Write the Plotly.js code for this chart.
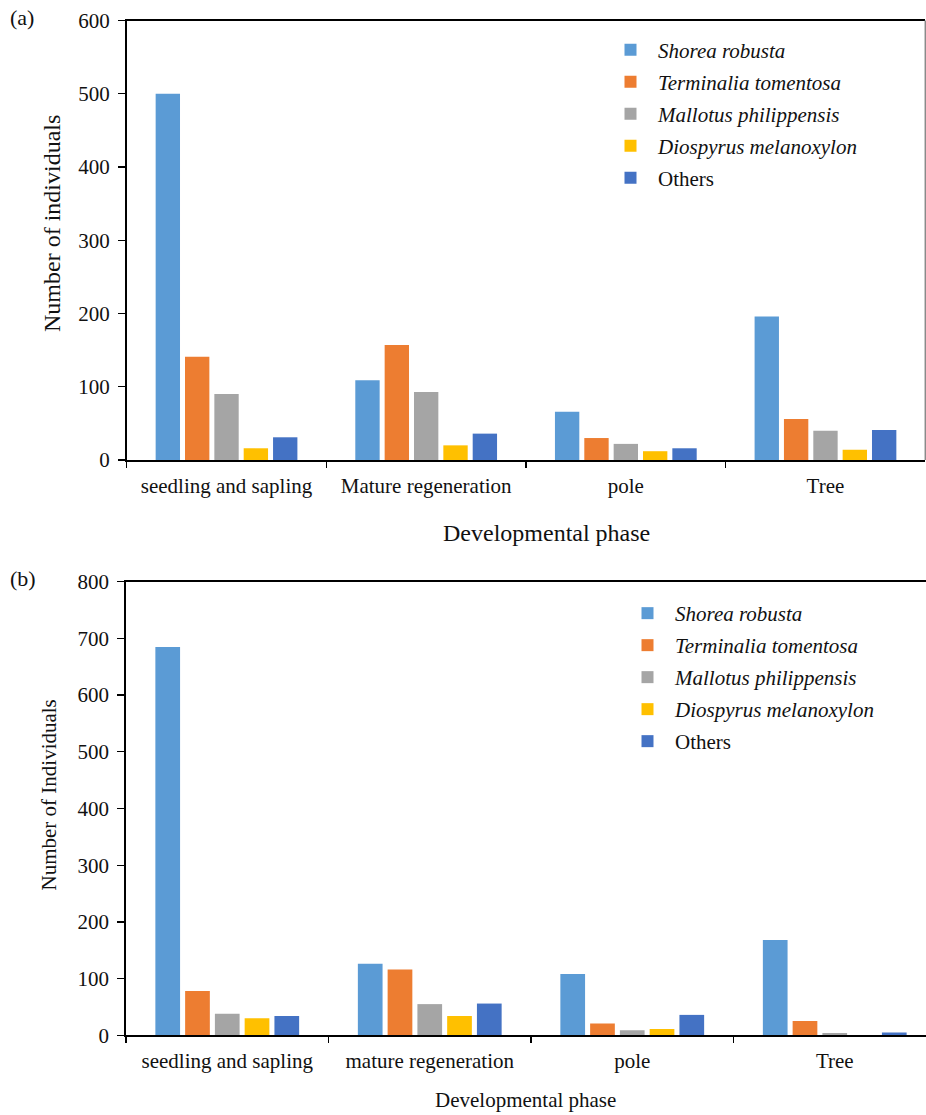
<!DOCTYPE html>
<html>
<head>
<meta charset="utf-8">
<script src="https://cdn.plot.ly/plotly-3.0.1.min.js"></script>
<style>
  html, body { margin: 0; padding: 0; background: #fff; }
  #chart { width: 926px; height: 1115px; }
</style>
</head>
<body>
<div id="chart"></div>
<script>
// Developmental phases (category axis labels)
const phasesA = ['seedling and sapling', 'Mature regeneration', 'pole', 'Tree'];
const phasesB = ['seedling and sapling', 'mature regeneration', 'pole', 'Tree'];

// Species names shown in the legends
const speciesNames = [
  '<i>Shorea robusta</i>',
  '<i>Terminalia tomentosa</i>',
  '<i>Mallotus philippensis</i>',
  '<i>Diospyrus melanoxylon</i>',
  'Others'
];
const speciesColors = ['#5B9BD5', '#ED7D31', '#A5A5A5', '#FFC000', '#4472C4'];

// Panel (a): number of individuals per phase
const shoreaA     = [500, 109, 66, 196];
const terminaliaA = [141, 157, 30, 56];
const mallotusA   = [90, 93, 22, 40];
const diospyrusA  = [16, 20, 12, 14];
const othersA     = [31, 36, 16, 41];

// Panel (b): number of individuals per phase
const shoreaB     = [685, 126, 108, 168];
const terminaliaB = [78, 116, 21, 25];
const mallotusB   = [38, 55, 9, 4];
const diospyrusB  = [30, 34, 11, 0];
const othersB     = [34, 56, 36, 5];

const seriesA = [shoreaA, terminaliaA, mallotusA, diospyrusA, othersA];
const seriesB = [shoreaB, terminaliaB, mallotusB, diospyrusB, othersB];

const W = 926, H = 1115;
const px = v => v / W;          // horizontal pixel -> paper
const py = v => 1 - v / H;      // vertical pixel -> paper

const FONT = 'Liberation Serif';

const traces = [];
seriesA.forEach((vals, i) => {
  traces.push({
    type: 'bar', x: phasesA, y: vals, name: speciesNames[i],
    marker: { color: speciesColors[i] },
    xaxis: 'x', yaxis: 'y', legend: 'legend', legendgroup: 'a' + i,
    hoverinfo: 'x+y+name'
  });
});
seriesB.forEach((vals, i) => {
  traces.push({
    type: 'bar', x: phasesB, y: vals, name: speciesNames[i],
    marker: { color: speciesColors[i] },
    xaxis: 'x2', yaxis: 'y2', legend: 'legend2', legendgroup: 'b' + i,
    hoverinfo: 'x+y+name'
  });
});

const catAxis = (domain, range) => ({
  domain: domain,
  type: 'category',
  range: range,
  showline: true, linecolor: '#000', linewidth: 1.5,
  mirror: true,
  ticks: 'outside', tickson: 'boundaries', ticklen: 6, tickwidth: 1.3, tickcolor: '#000',
  ticklabelstandoff: 6,
  showgrid: false, zeroline: false,
  tickfont: { family: FONT, size: 21, color: '#111' },
  fixedrange: true
});

const valAxis = (domain, range, dtick) => ({
  domain: domain,
  range: range,
  dtick: dtick,
  showline: true, linecolor: '#000', linewidth: 1.8,
  mirror: false,
  ticks: 'outside', ticklen: 7, tickwidth: 1.3, tickcolor: '#000',
  ticklabelstandoff: 4,
  showgrid: false, zeroline: false,
  tickfont: { family: FONT, size: 21, color: '#111' },
  fixedrange: true
});

const makeLegend = (x, y) => ({
  x: x, y: y,
  xanchor: 'left', yanchor: 'top',
  font: { family: FONT, size: 21, color: '#111' },
  bgcolor: 'rgba(0,0,0,0)',
  itemwidth: 45,
  traceorder: 'grouped',
  tracegroupgap: 1.7,
  itemclick: false, itemdoubleclick: false
});

const note = (text, x, y, size, angle) => ({
  text: text, x: px(x), y: py(y), xref: 'paper', yref: 'paper',
  xanchor: 'center', yanchor: 'middle', textangle: angle || 0,
  showarrow: false, font: { family: FONT, size: size, color: '#111' }
});

const layout = {
  width: W, height: H,
  margin: { l: 0, r: 0, t: 0, b: 0 },
  paper_bgcolor: '#fff', plot_bgcolor: '#fff',
  font: { family: FONT, color: '#111' },
  barmode: 'group',
  bargap: 0.265,
  bargroupgap: 0.17,
  showlegend: true,
  xaxis: catAxis([px(126.7), px(925.3)], [-0.5, 3.5]),
  yaxis: valAxis([py(460), py(20.5)], [0, 600], 100),
  // lower panel runs past the right edge of the page, so its range is cut short
  xaxis2: Object.assign(catAxis([px(126), 1], [-0.5, 3.5 - (936 - W) / 202.5]), { anchor: 'y2' }),
  yaxis2: Object.assign(valAxis([py(1035.3), py(581.7)], [0, 800], 100), { anchor: 'x2' }),
  legend: makeLegend(px(603), py(29.7)),
  legend2: makeLegend(px(620), py(593)),
  shapes: [
    // light right-hand frame of the upper panel
    { type: 'line', xref: 'x domain', yref: 'y domain', x0: 1, x1: 1, y0: 0, y1: 1,
      line: { color: '#8a8a8a', width: 1.5 } }
  ],
  annotations: [
    note('(a)', 22, 18, 22),
    note('(b)', 23, 578, 22),
    note('Developmental phase', 546, 533, 24),
    note('Number of individuals', 52, 224, 24, -90),
    note('Developmental phase', 525.5, 1100, 21),
    note('Number of Individuals', 48.5, 795, 21, -90)
  ]
};

Plotly.newPlot('chart', traces, layout, { displayModeBar: false, staticPlot: true });
</script>
</body>
</html>
